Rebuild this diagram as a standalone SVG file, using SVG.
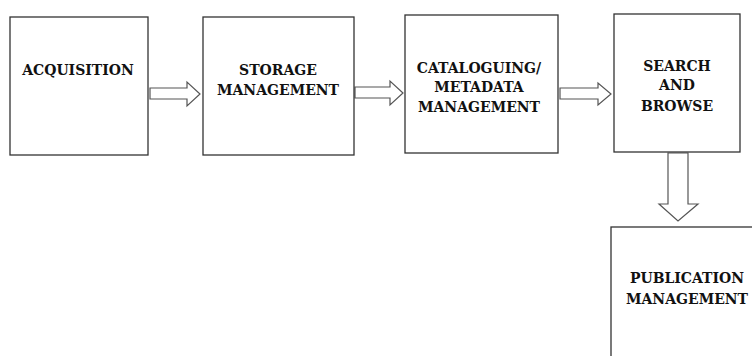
<svg xmlns="http://www.w3.org/2000/svg" width="752" height="356" viewBox="0 0 752 356">
<style>
.box{fill:#fff;stroke:#333;stroke-width:1.3}
.arr{fill:#fff;stroke:#555;stroke-width:1.2;stroke-linejoin:miter}
text{font-family:"DejaVu Serif","Liberation Serif",serif;font-weight:bold;font-size:14px;fill:#111;text-anchor:middle}
</style>
<rect width="752" height="356" fill="#fff"/>
<g id="connectors">
<path class="arr" d="M150,88 H187 V82 L200,94 L187,106 V99 H150 Z"/>
<path class="arr" d="M355,87 H390 V81 L403,93 L390,105 V98 H355 Z"/>
<path class="arr" d="M560,88 H598 V83 L611,94 L598,105 V99 H560 Z"/>
<path class="arr" d="M668,153 H688 V204 H698 L678,221 L659,204 H668 Z"/>
</g>
<g id="acquisition">
<rect class="box" x="10" y="17" width="138" height="138"/>
<text x="78" y="75">ACQUISITION</text>
</g>
<g id="storage">
<rect class="box" x="203" y="17" width="151" height="138"/>
<text x="278" y="75">STORAGE</text>
<text x="278" y="95">MANAGEMENT</text>
</g>
<g id="cataloguing">
<rect class="box" x="405" y="15" width="153" height="138"/>
<text x="479" y="73">CATALOGUING/</text>
<text x="479" y="92">METADATA</text>
<text x="479" y="112">MANAGEMENT</text>
</g>
<g id="search">
<rect class="box" x="614" y="14" width="126" height="138"/>
<text x="677" y="71">SEARCH</text>
<text x="677" y="90">AND</text>
<text x="677" y="111">BROWSE</text>
</g>
<g id="publication">
<rect class="box" x="611" y="227" width="160" height="150"/>
<text x="687" y="283">PUBLICATION</text>
<text x="687" y="304">MANAGEMENT</text>
</g>
</svg>
